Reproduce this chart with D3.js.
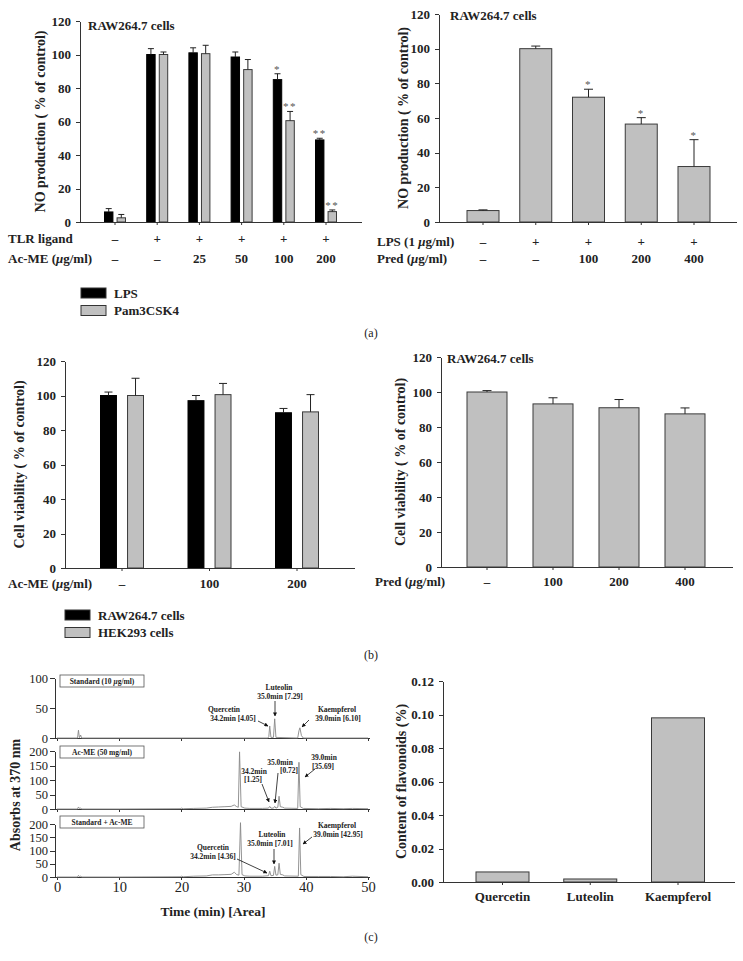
<!DOCTYPE html>
<html>
<head>
<meta charset="UTF-8">
<title>Ac-ME: NO production, cell viability and flavonoid content</title>
<script src="https://cdn.jsdelivr.net/npm/d3@7"></script>
<style>
  body { margin: 0; background: #fff; }
  svg { font-family: "Liberation Serif", "DejaVu Serif", serif; }
  .axis path, .axis line { stroke: #333; stroke-width: 1; shape-rendering: crispEdges; }
  .axis text { font-size: 13px; font-weight: bold; fill: #222; font-family: "Liberation Serif", serif; }
  .chrom .axis text { font-weight: normal; }
  .lbl { font-weight: bold; fill: #222; }
  .note { font-size: 7.5px; font-weight: bold; fill: #222; }
</style>
</head>
<body>
<svg id="fig" width="743" height="961"></svg>
<script>
// ---------- data ----------
// (a) left: NO production with Ac-ME
const aTLR   = ["–", "+", "+", "+", "+", "+"];
const aDose  = ["–", "–", "25", "50", "100", "200"];
const aLPS      = [6, 100, 101, 98.5, 85, 49];
const aLPSErr   = [2, 3.5, 3, 3, 3.5, 1];
const aLPSSig   = ["", "", "", "", "*", "**"];
const aPam      = [2.5, 100, 100.5, 91, 60.5, 6.2];
const aPamErr   = [2, 1.5, 5, 6, 5.5, 1];
const aPamSig   = ["", "", "", "", "**", "**"];

// (a) right: NO production with prednisolone
const aLPS2  = ["–", "+", "+", "+", "+"];
const aPred  = ["–", "–", "100", "200", "400"];
const aPredNO    = [6.6, 100, 72, 56.5, 32];
const aPredNOErr = [0.4, 1.5, 4.6, 3.7, 15.5];
const aPredSig   = ["", "", "*", "*", "*"];

// (b) left: cell viability with Ac-ME
const bDose = ["–", "100", "200"];
const bRAW    = [100, 97, 90];
const bRAWErr = [2, 3, 2.5];
const bHEK    = [100, 100.5, 90.5];
const bHEKErr = [10, 6.5, 10];

// (b) right: cell viability with prednisolone
const bPred = ["–", "100", "200", "400"];
const bPredV    = [100, 93.2, 91, 87.5];
const bPredVErr = [0.8, 3.5, 4.7, 3.4];

// (c) right: flavonoid content
const flavonoids = ["Quercetin", "Luteolin", "Kaempferol"];
const flavContent = [0.006, 0.0018, 0.098];

// (c) left: HPLC traces, [time (min), absorbance]
const traceStd = [[0,0],[3.3,0],[3.45,13],[3.6,0.5],[3.8,5],[3.95,0],[20,0],[33.9,0],[34.05,2],[34.2,20],[34.4,1],[34.8,1],[35.0,32],[35.2,1],
  [38.7,0],[38.9,12],[39.05,17],[39.3,4],[39.6,0],[50,0]];
const traceAcME = [[0,0],[3.3,0],[3.45,7],[3.6,2],[3.8,3],[4.0,0],[10,0],[19.8,1],[20,3],[20.3,1],[22,2],[24,3],[25,6],[26,7],[27,8],[28,9],
  [28.5,14],[28.9,8],[29.15,6],[29.35,197],[29.6,8],[30.2,3],[31,2],[33,2],[34.0,3],[34.2,9],[34.4,3],[34.8,3],[35.0,9],[35.2,3],[35.5,6],
  [35.7,44],[35.9,8],[36.3,6],[36.6,3],[38.7,2],[38.9,161],[39.1,8],[39.6,2],[42,1],[44,2],[46,1],[47.5,2],[50,1]];
const traceMix = [[0,0],[3.3,0],[3.45,6],[3.6,2],[3.8,3],[4.0,0],[10,0],[19.8,1],[20,3],[20.3,1],[22,3],[24,4],[25,8],[26,8],[27,9],[28,10],
  [28.5,18],[28.9,9],[29.25,7],[29.5,205],[29.75,9],[30.2,4],[31,3],[33,3],[34.0,5],[34.2,22],[34.4,5],[34.8,6],[35.0,40],[35.2,7],[35.5,8],
  [35.7,52],[35.9,10],[36.3,8],[36.6,4],[38.8,3],[39.0,185],[39.2,9],[39.7,2],[42,2],[44,2],[46,1],[47.5,3],[50,1]];

const svg = d3.select("#fig");

// ---------- helpers ----------
function barPanel(p) {
  const g = svg.append("g");
  const x = d3.scalePoint().domain(d3.range(p.n)).range([p.c0, p.c1]);
  const y = d3.scaleLinear().domain([0, p.ymax]).range([p.yb, p.yt]);
  const xs = d3.scaleBand().domain(d3.range(p.series.length))
    .range([-p.half, p.half]).paddingInner(p.pad || 0);

  g.append("g").attr("class", "axis").attr("transform", `translate(${p.ax0},0)`)
    .call(d3.axisLeft(y).tickValues(p.ticks).tickSize(4).tickSizeOuter(0).tickPadding(5)
      .tickFormat(p.fmt || d3.format("d")));

  p.series.forEach((s, si) => {
    s.vals.forEach((v, i) => {
      const bx = x(i) + xs(si);
      g.append("rect")
        .attr("x", bx).attr("y", y(v))
        .attr("width", xs.bandwidth()).attr("height", y(0) - y(v))
        .attr("fill", s.fill).attr("stroke", s.stroke).attr("stroke-width", 1);
      if (s.errs) {
        const cx = bx + xs.bandwidth() / 2, top = y(v + s.errs[i]);
        g.append("line").attr("x1", cx).attr("x2", cx).attr("y1", y(v)).attr("y2", top)
          .attr("stroke", "#222");
        g.append("line").attr("x1", cx - p.cap / 2).attr("x2", cx + p.cap / 2)
          .attr("y1", top).attr("y2", top).attr("stroke", "#222");
        if (s.sig && s.sig[i]) {
          g.append("text").attr("x", cx).attr("y", top - 1).attr("text-anchor", "middle")
            .attr("font-size", 11).attr("fill", "#555").attr("letter-spacing", 1.5)
            .text(s.sig[i]);
        }
      }
    });
  });

  // baseline and category ticks
  g.append("line").attr("x1", p.ax0).attr("x2", p.ax1).attr("y1", y(0)).attr("y2", y(0))
    .attr("stroke", "#333").attr("shape-rendering", "crispEdges");
  g.selectAll("line.ct").data(d3.range(p.n)).join("line").attr("class", "ct")
    .attr("x1", d => x(d)).attr("x2", d => x(d)).attr("y1", y(0)).attr("y2", y(0) + 3)
    .attr("stroke", "#333");

  // category rows
  (p.rows || []).forEach(r => {
    g.selectAll(null).data(r.labels).join("text")
      .attr("class", "lbl").attr("font-size", 13)
      .attr("x", (d, i) => x(i)).attr("y", r.y).attr("dy", "0.35em")
      .attr("text-anchor", "middle").text(d => d);
  });

  // y-axis title
  g.append("text").attr("class", "lbl").attr("font-size", 14)
    .attr("transform", `translate(${p.ylx},${(p.yb + p.yt) / 2}) rotate(-90)`)
    .attr("text-anchor", "middle").attr("dy", "0.35em").text(p.ylabel);
  if (p.title) {
    g.append("text").attr("class", "lbl").attr("font-size", 13)
      .attr("x", p.title[0]).attr("y", p.title[1]).attr("dy", "0.35em").text("RAW264.7 cells");
  }
  return g;
}

function rowLabel(x, y, parts) {
  const t = svg.append("text").attr("class", "lbl").attr("font-size", 13)
    .attr("x", x).attr("y", y).attr("dy", "0.35em");
  parts.forEach(pt => t.append("tspan").attr("font-style", pt[1] ? "italic" : null).text(pt[0]));
}

function legend(x, y, items) {
  items.forEach((it, i) => {
    svg.append("rect").attr("x", x).attr("y", y + i * 17.5 - 5).attr("width", 25).attr("height", 10)
      .attr("fill", it[1]).attr("stroke", "#333");
    svg.append("text").attr("class", "lbl").attr("font-size", 13)
      .attr("x", x + 33).attr("y", y + i * 17.5).attr("dy", "0.35em").text(it[0]);
  });
}

function panelTag(y, t) {
  svg.append("text").attr("x", 371).attr("y", y).attr("dy", "0.35em").attr("text-anchor", "middle")
    .attr("font-size", 12).attr("fill", "#222").text(t);
}

const GREY = "#c0c0c0", EDGE = "#3a3a3a";

// ---------- (a) ----------
barPanel({
  n: 6, c0: 115, c1: 326, half: 10.5, pad: 0.33, ax0: 80, ax1: 362, yb: 222, yt: 21, ymax: 120,
  ticks: d3.range(0, 121, 20), cap: 6, ylx: 40, ylabel: "NO production ( % of control)", title: [88, 25],
  series: [
    { vals: aLPS, errs: aLPSErr, sig: aLPSSig, fill: "#000", stroke: "#000" },
    { vals: aPam, errs: aPamErr, sig: aPamSig, fill: GREY, stroke: EDGE }
  ],
  rows: [{ y: 238, labels: aTLR }, { y: 258, labels: aDose }]
});
rowLabel(8, 238, [["TLR ligand"]]);
rowLabel(8, 258, [["Ac-ME ("], ["μ", true], ["g/ml)"]]);

barPanel({
  n: 5, c0: 483, c1: 694, half: 16, ax0: 439, ax1: 737, yb: 222, yt: 14, ymax: 120,
  ticks: d3.range(0, 121, 20), cap: 9, ylx: 403, ylabel: "NO production ( % of control)", title: [450, 15],
  series: [{ vals: aPredNO, errs: aPredNOErr, sig: aPredSig, fill: GREY, stroke: EDGE }],
  rows: [{ y: 241, labels: aLPS2 }, { y: 258, labels: aPred }]
});
rowLabel(377, 241, [["LPS (1 "], ["μ", true], ["g/ml)"]]);
rowLabel(377, 258, [["Pred ("], ["μ", true], ["g/ml)"]]);

legend(81, 293, [["LPS", "#000"], ["Pam3CSK4", GREY]]);
panelTag(333, "(a)");

// ---------- (b) ----------
barPanel({
  n: 3, c0: 122, c1: 297, half: 21.5, pad: 0.41, ax0: 65, ax1: 355, yb: 568, yt: 361, ymax: 120,
  ticks: d3.range(0, 121, 20), cap: 8, ylx: 19, ylabel: "Cell viability ( % of control)",
  series: [
    { vals: bRAW, errs: bRAWErr, fill: "#000", stroke: "#000" },
    { vals: bHEK, errs: bHEKErr, fill: GREY, stroke: EDGE }
  ],
  rows: [{ y: 583, labels: bDose }]
});
rowLabel(8, 583, [["Ac-ME ("], ["μ", true], ["g/ml)"]]);
legend(65, 615, [["RAW264.7 cells", "#000"], ["HEK293 cells", GREY]]);

barPanel({
  n: 4, c0: 487, c1: 685, half: 20, ax0: 441, ax1: 733, yb: 567, yt: 357, ymax: 120,
  ticks: d3.range(0, 121, 20), cap: 9, ylx: 400, ylabel: "Cell viability ( % of control)", title: [447, 358],
  series: [{ vals: bPredV, errs: bPredVErr, fill: GREY, stroke: EDGE }],
  rows: [{ y: 581, labels: bPred }]
});
rowLabel(375, 581, [["Pred ("], ["μ", true], ["g/ml)"]]);
panelTag(655, "(b)");

// ---------- (c) right ----------
barPanel({
  n: 3, c0: 502.5, c1: 678, half: 26.5, ax0: 443, ax1: 735, yb: 882, yt: 681, ymax: 0.12,
  ticks: d3.range(0, 0.121, 0.02), fmt: d3.format(".2f"), cap: 0, ylx: 401,
  ylabel: "Content of flavonoids (%)",
  series: [{ vals: flavContent, fill: GREY, stroke: EDGE }],
  rows: [{ y: 896, labels: flavonoids }]
});
panelTag(937, "(c)");

// ---------- (c) left: chromatograms ----------
const cg = svg.append("g").attr("class", "chrom");
const tx = d3.scaleLinear().domain([0, 50]).range([57, 368]);
const subs = [
  { data: traceStd,  max: 100, yb: 738, yt: 678, ticks: [0, 50, 100], box: "Standard (10 μg/ml)", by: 681 },
  { data: traceAcME, max: 200, yb: 809, yt: 751, ticks: [0, 50, 100, 150, 200], box: "Ac-ME (50 mg/ml)", by: 752 },
  { data: traceMix,  max: 200, yb: 877, yt: 824, ticks: [0, 50, 100, 150, 200], box: "Standard + Ac-ME", by: 822 }
];
subs.forEach((s, k) => {
  const ys = d3.scaleLinear().domain([0, s.max]).range([s.yb, s.yt]);
  const ya = cg.append("g").attr("class", "axis").attr("transform", "translate(55,0)")
    .call(d3.axisLeft(ys).tickValues(s.ticks).tickSize(5).tickSizeOuter(0).tickPadding(2));
  ya.selectAll("text").style("font-size", "12.5px");
  ya.select(".domain").attr("stroke", k === 2 ? "#777" : "none");
  const xa = cg.append("g").attr("class", "axis").attr("transform", `translate(0,${s.yb})`)
    .call(d3.axisBottom(tx).ticks(5).tickSize(3).tickSizeOuter(0).tickPadding(2)
      .tickFormat(k === 2 ? d3.format("d") : ""));
  xa.select(".domain").attr("d", `M55,0H370`);
  xa.selectAll("text").style("font-size", "14.5px");
  cg.append("path").datum(s.data)
    .attr("fill", "none").attr("stroke", "#888").attr("stroke-width", 0.9)
    .attr("d", d3.line().x(d => tx(d[0])).y(d => ys(d[1])));
  cg.append("rect").attr("x", 60).attr("y", s.by - 6).attr("width", 84).attr("height", 12)
    .attr("fill", "#fff").attr("stroke", "#555").attr("stroke-width", 0.8);
  const bt = cg.append("text").attr("class", "note").attr("x", 102).attr("y", s.by).attr("dy", "0.35em")
    .attr("text-anchor", "middle");
  s.box.split("μ").forEach((part, i) => {
    if (i > 0) bt.append("tspan").attr("font-style", "italic").text("μ");
    bt.append("tspan").text(part);
  });
});

cg.append("text").attr("class", "lbl").attr("font-size", 13.5).attr("x", 213).attr("y", 911)
  .attr("dy", "0.35em").attr("text-anchor", "middle").text("Time (min) [Area]");
cg.append("text").attr("class", "lbl").attr("font-size", 14)
  .attr("transform", "translate(15,795) rotate(-90)").attr("text-anchor", "middle")
  .attr("dy", "0.35em").text("Absorbs at 370 nm");

// peak annotations: text lines [x, y, text] and arrow [x1, y1, x2, y2]
const peakNotes = [
  { lines: [[279, 687, "Luteolin"], [280, 696, "35.0min [7.29]"]], arrow: [275, 701, 275, 716] },
  { lines: [[224, 709, "Quercetin"], [233, 718, "34.2min [4.05]"]], arrow: [258, 721, 268, 726] },
  { lines: [[337, 709, "Kaempferol"], [338, 718, "39.0min [6.10]"]], arrow: [309, 720, 302, 727] },
  { lines: [[324, 757, "39.0min"], [323, 766, "[35.69]"]], arrow: [315, 769, 305, 777] },
  { lines: [[280, 762, "35.0min"], [289, 770, "[0.72]"]], arrow: [278, 773, 275, 803] },
  { lines: [[254, 771, "34.2min"], [253, 779, "[1.25]"]], arrow: [262, 784, 269, 802] },
  { lines: [[337, 825, "Kaempferol"], [338, 834, "39.0min [42.95]"]], arrow: [312, 837, 303, 844] },
  { lines: [[272, 834, "Luteolin"], [270, 843, "35.0min [7.01]"]], arrow: [274, 849, 274, 864] },
  { lines: [[213, 847, "Quercetin"], [213, 856, "34.2min [4.36]"]], arrow: [237, 859, 267, 873] }
];
svg.append("defs").append("marker").attr("id", "ah").attr("viewBox", "0 0 10 10")
  .attr("refX", 9).attr("refY", 5).attr("markerWidth", 5).attr("markerHeight", 5)
  .attr("orient", "auto").append("path").attr("d", "M0,0L10,5L0,10z").attr("fill", "#111");
peakNotes.forEach(n => {
  n.lines.forEach(l => cg.append("text").attr("class", "note").attr("x", l[0]).attr("y", l[1])
    .attr("dy", "0.35em").attr("text-anchor", "middle").text(l[2]));
  cg.append("line").attr("x1", n.arrow[0]).attr("y1", n.arrow[1]).attr("x2", n.arrow[2]).attr("y2", n.arrow[3])
    .attr("stroke", "#111").attr("stroke-width", 0.8).attr("marker-end", "url(#ah)");
});
</script>
</body>
</html>
